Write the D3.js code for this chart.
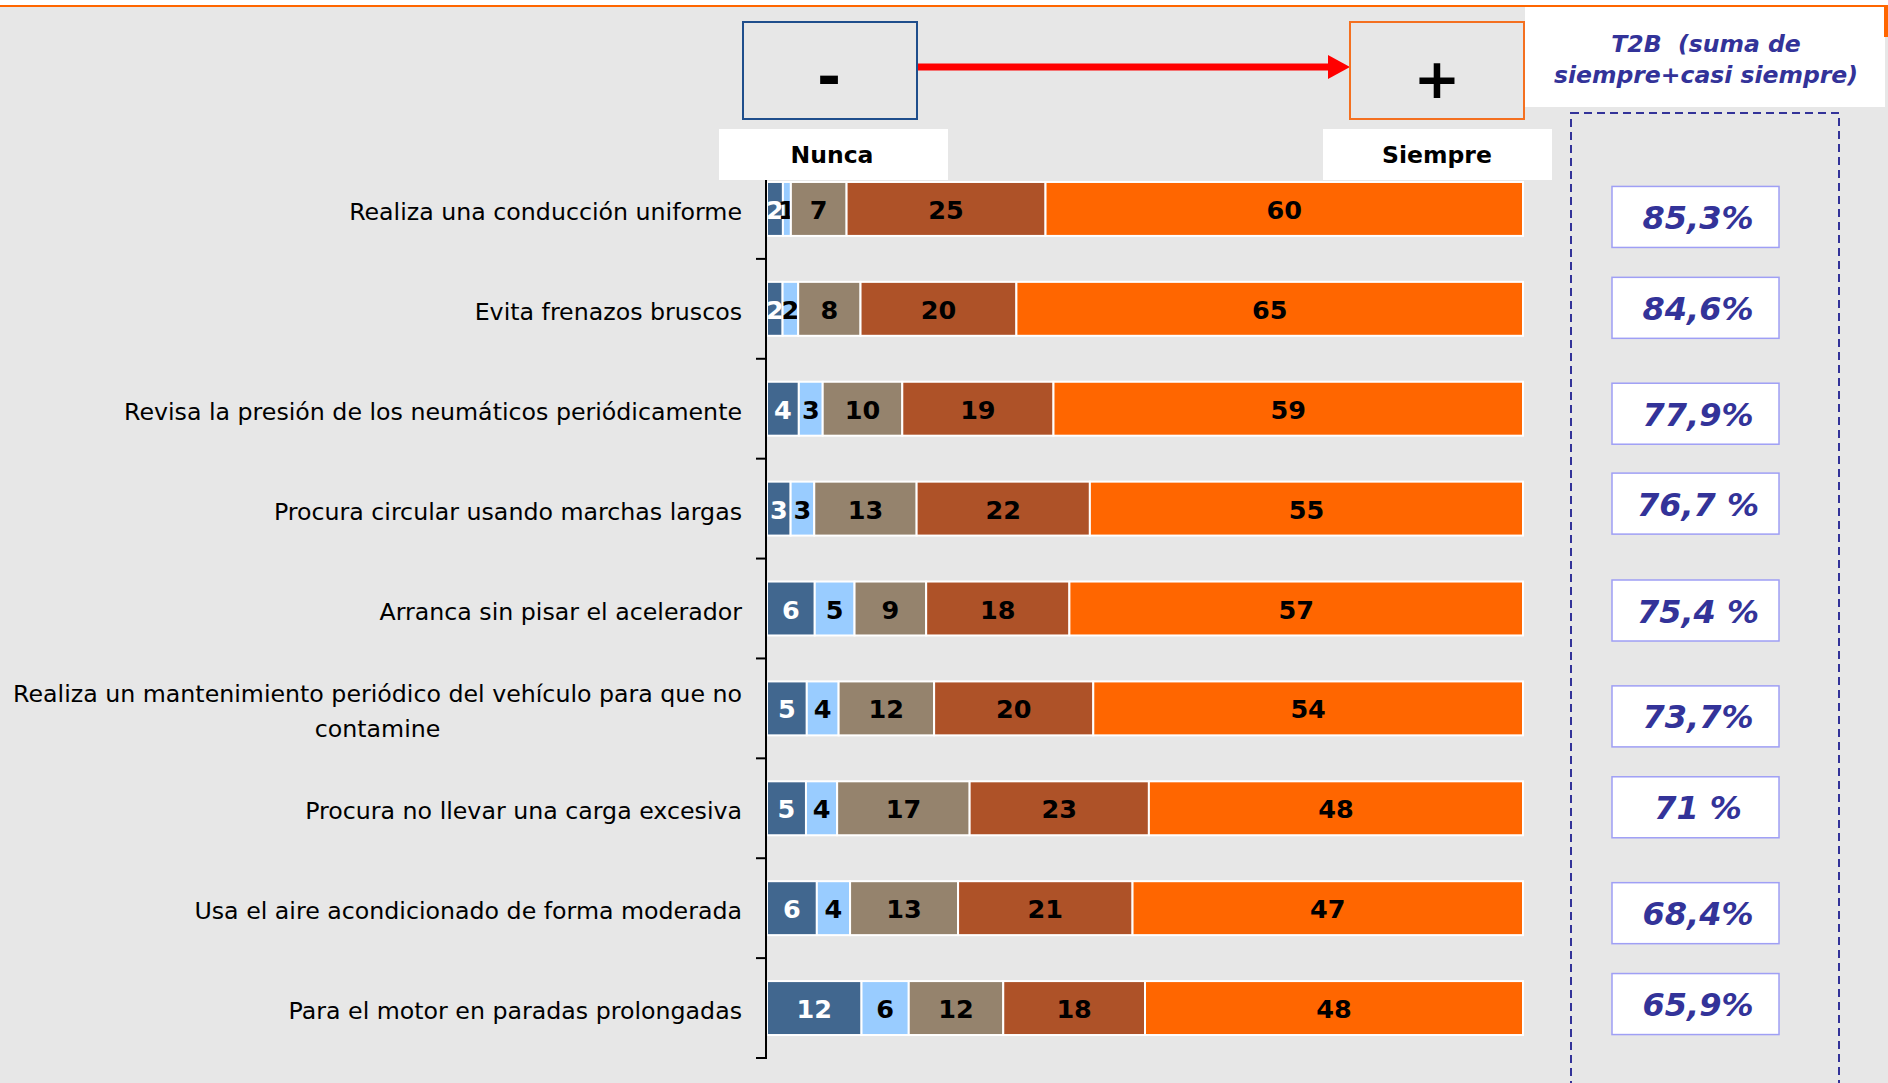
<!DOCTYPE html>
<html>
<head>
<meta charset="utf-8">
<script src="https://cdn.jsdelivr.net/npm/d3@7"></script>
<style>
  html, body { margin: 0; padding: 0; background: #e7e7e7; }
  svg { display: block; }
  .pre { white-space: pre; }
</style>
</head>
<body>
<svg id="chart" width="1888" height="1083"></svg>
<script>
// ---------------- DATA ----------------
const categories = [
  "Realiza una conducción uniforme",
  "Evita frenazos bruscos",
  "Revisa la presión de los neumáticos periódicamente",
  "Procura circular usando marchas largas",
  "Arranca sin pisar el acelerador",
  "Realiza un mantenimiento periódico del vehículo para que no|contamine",
  "Procura no llevar una carga excesiva",
  "Usa el aire acondicionado de forma moderada",
  "Para el motor en paradas prolongadas"
];
const seriesNames = ["Nunca", "Casi nunca", "A veces", "Casi siempre", "Siempre"];
const nunca       = [2, 2, 4, 3, 6, 5, 5, 6, 12];
const casiNunca   = [1, 2, 3, 3, 5, 4, 4, 4, 6];
const aVeces      = [7, 8, 10, 13, 9, 12, 17, 13, 12];
const casiSiempre = [25, 20, 19, 22, 18, 20, 23, 21, 18];
const siempre     = [60, 65, 59, 55, 57, 54, 48, 47, 48];
const t2bLabels   = ["85,3%", "84,6%", "77,9%", "76,7 %", "75,4 %", "73,7%", "71 %", "68,4%", "65,9%"];
const scaleEnds   = ["Nunca", "Siempre"];
const t2bTitle    = ["T2B  (suma de", "siempre+casi siempre)"];

// ---------------- STYLE / LAYOUT ----------------
const colors = ["#41678f", "#99ccff", "#95836d", "#ae5228", "#ff6600"];
const labelColors = ["#ffffff", "#000000", "#000000", "#000000", "#000000"];
const boxNudge = [8, -1, 5, -5, 2, 8, -1, 5, -4];
const W = 1888, H = 1083;

const svg = d3.select("#chart");

// background
svg.append("rect").attr("x", 0).attr("y", 0).attr("width", W).attr("height", H).attr("fill", "#e7e7e7");
svg.append("rect").attr("x", 0).attr("y", 0).attr("width", W).attr("height", 6).attr("fill", "#ffffff");
svg.append("line").attr("x1", 0).attr("x2", W).attr("y1", 6).attr("y2", 6)
  .attr("stroke", "#ff6600").attr("stroke-width", 2);

// table
const rows = categories.map((c, i) => ({
  cat: c, "Nunca": nunca[i], "Casi nunca": casiNunca[i], "A veces": aVeces[i],
  "Casi siempre": casiSiempre[i], "Siempre": siempre[i]
}));

const stack = d3.stack().keys(seriesNames).offset(d3.stackOffsetExpand);
const stacked = stack(rows);

const x = d3.scaleLinear().domain([0, 1]).range([767, 1523]);
const y = d3.scaleBand().domain(categories).range([159, 1058])
  .paddingInner(0.46).paddingOuter(0.23);

// bars
const g = svg.append("g");
stacked.forEach((layer, si) => {
  const lg = g.append("g");
  lg.selectAll("rect").data(layer).join("rect")
    .attr("x", d => x(d[0]))
    .attr("y", d => y(d.data.cat))
    .attr("width", d => x(d[1]) - x(d[0]))
    .attr("height", y.bandwidth())
    .attr("fill", colors[si])
    .attr("stroke", "#ffffff")
    .attr("stroke-width", 2);
  lg.selectAll("text").data(layer).join("text")
    .attr("x", d => (x(d[0]) + x(d[1])) / 2)
    .attr("y", d => y(d.data.cat) + y.bandwidth() / 2 + 10)
    .attr("text-anchor", "middle")
    .attr("font-family", "'DejaVu Sans', sans-serif")
    .attr("font-weight", "bold")
    .attr("font-size", 25.5)
    .attr("fill", labelColors[si])
    .text(d => d.data[seriesNames[si]]);
});

// axis line & ticks between categories
const step = y.step();
const boundaries = categories.map(c => y(c) - step * y.paddingInner() / 2);
boundaries.push(y(categories[categories.length - 1]) + y.bandwidth() + step * y.paddingInner() / 2);
svg.append("line").attr("x1", 766).attr("x2", 766)
  .attr("y1", boundaries[0]).attr("y2", boundaries[boundaries.length - 1])
  .attr("stroke", "#000").attr("stroke-width", 2);
svg.selectAll("line.tick").data(boundaries).join("line")
  .attr("class", "tick")
  .attr("x1", 756).attr("x2", 767)
  .attr("y1", d => d).attr("y2", d => d)
  .attr("stroke", "#000").attr("stroke-width", 2);

// category labels
const labG = svg.append("g")
  .attr("font-family", "'DejaVu Sans', sans-serif")
  .attr("font-size", 23.7)
  .attr("fill", "#000");
categories.forEach(c => {
  const lines = c.split("|");
  const cy = y(c) + y.bandwidth() / 2;
  if (lines.length === 1) {
    labG.append("text").attr("x", 742).attr("y", cy + 11)
      .attr("text-anchor", "end").text(lines[0]);
  } else {
    const lh = 35;
    const t1 = labG.append("text").attr("x", 742).attr("y", cy - lh / 2 + 11)
      .attr("text-anchor", "end").text(lines[0]);
    const w1 = t1.node().getComputedTextLength();
    labG.append("text").attr("x", 742 - w1 / 2).attr("y", cy + lh / 2 + 11)
      .attr("text-anchor", "middle").text(lines[1]);
  }
});

// header: - box, arrow, + box
svg.append("rect").attr("x", 743).attr("y", 22).attr("width", 174).attr("height", 97)
  .attr("fill", "#e7e7e7").attr("stroke", "#1f4e8c").attr("stroke-width", 2);
svg.append("text").attr("x", 829).attr("y", 97).attr("text-anchor", "middle")
  .attr("font-family", "'DejaVu Sans', sans-serif").attr("font-weight", "bold")
  .attr("font-size", 58).attr("fill", "#000").text("-");

svg.append("line").attr("x1", 918).attr("x2", 1332).attr("y1", 67).attr("y2", 67)
  .attr("stroke", "#ff0000").attr("stroke-width", 7);
svg.append("path").attr("d", "M1328,55 L1350,67 L1328,79 Z").attr("fill", "#ff0000");

svg.append("rect").attr("x", 1350).attr("y", 22).attr("width", 174).attr("height", 97)
  .attr("fill", "#e7e7e7").attr("stroke", "#f47020").attr("stroke-width", 2);
svg.append("text").attr("x", 1437).attr("y", 98).attr("text-anchor", "middle")
  .attr("font-family", "'DejaVu Sans', sans-serif").attr("font-weight", "bold")
  .attr("font-size", 56).attr("fill", "#000").text("+");

// Nunca / Siempre boxes
const endBoxes = [{x: 719, w: 229, cx: 832}, {x: 1323, w: 229, cx: 1437}];
endBoxes.forEach((b, i) => {
  svg.append("rect").attr("x", b.x).attr("y", 129).attr("width", b.w).attr("height", 51)
    .attr("fill", "#ffffff");
  svg.append("text").attr("x", b.cx).attr("y", 163).attr("text-anchor", "middle")
    .attr("font-family", "'DejaVu Sans', sans-serif").attr("font-weight", "bold")
    .attr("font-size", 23.5).attr("fill", "#000").text(scaleEnds[i]);
});

// T2B header box
svg.append("rect").attr("x", 1525).attr("y", 7).attr("width", 360).attr("height", 100)
  .attr("fill", "#ffffff");
svg.append("rect").attr("x", 1884).attr("y", 7).attr("width", 4).attr("height", 30)
  .attr("fill", "#ff6600");
t2bTitle.forEach((t, i) => {
  svg.append("text").attr("class", "pre").attr("x", 1706).attr("y", 52 + i * 31).attr("text-anchor", "middle")
    .attr("font-family", "'DejaVu Sans', sans-serif").attr("font-weight", "bold")
    .attr("font-style", "italic").attr("font-size", 23.5).attr("fill", "#333399").text(t);
});

// dashed frame
svg.append("rect").attr("x", 1571).attr("y", 113).attr("width", 268).attr("height", 1000)
  .attr("fill", "none").attr("stroke", "#333399").attr("stroke-width", 2)
  .attr("stroke-dasharray", "8,5");

// T2B value boxes
const vb = svg.append("g");
categories.forEach((c, i) => {
  const cy = y(c) + y.bandwidth() / 2 + boxNudge[i];
  vb.append("rect").attr("x", 1612).attr("y", cy - 30.5).attr("width", 167).attr("height", 61)
    .attr("fill", "#ffffff").attr("stroke", "#9f9ff5").attr("stroke-width", 1.5);
  vb.append("text").attr("class", "pre").attr("x", 1698).attr("y", cy + 12).attr("text-anchor", "middle")
    .attr("font-family", "'DejaVu Sans', sans-serif").attr("font-weight", "bold")
    .attr("font-style", "italic").attr("font-size", 32).attr("fill", "#333399")
    .text(t2bLabels[i]);
});
</script>
</body>
</html>
